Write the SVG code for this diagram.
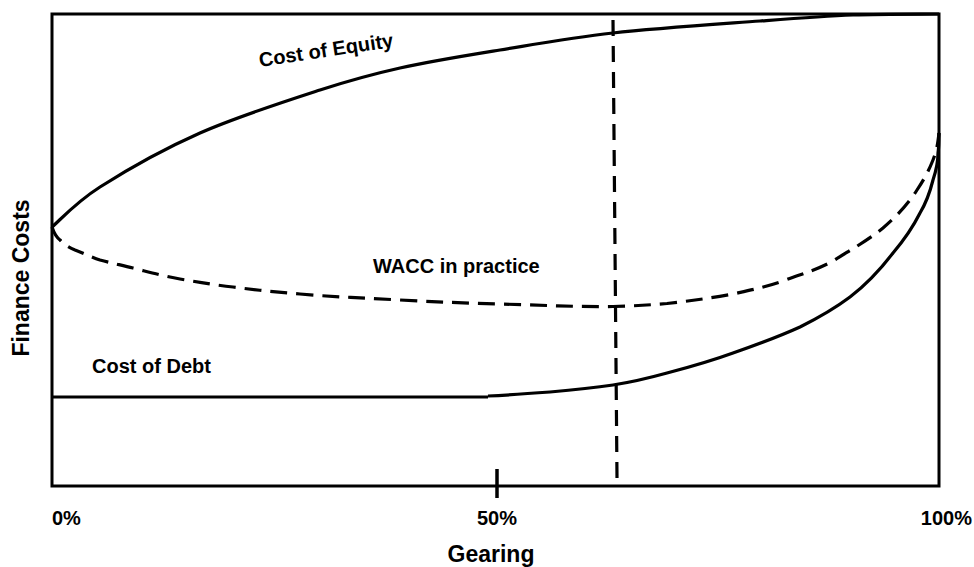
<svg xmlns="http://www.w3.org/2000/svg" width="974" height="567" viewBox="0 0 974 567">
<style>
.t{font-family:"Liberation Sans",Arial,sans-serif;font-weight:bold;font-size:20px;fill:#000}
.ax{font-size:23px}
.s{fill:none;stroke:#000;stroke-width:3.2;stroke-linecap:butt;stroke-linejoin:round}
.d{stroke-dasharray:17 9}
</style>
<rect width="974" height="567" fill="#fff"/>
<g id="frame">
<rect x="52" y="14" width="887" height="472" fill="none" stroke="#000" stroke-width="3"/>
<line x1="497" y1="469" x2="497" y2="498" stroke="#000" stroke-width="3.5"/>
</g>
<g id="curves">
<path id="equity" class="s" d="M52,227 C60,220.3 75.3,202.7 100,187 C124.7,171.3 163.3,149.2 200,133 C236.7,116.8 286.7,100.8 320,90 C353.3,79.2 370,74.7 400,68 C430,61.3 464.5,55.8 500,50 C535.5,44.2 569.7,37.8 613,33 C656.3,28.2 720,24 760,21 C800,18 823.2,16.2 853,15 C882.8,13.8 924.7,14.2 939,14"/>
<path id="wacc" class="s d" d="M52,227 C54,233 56,237 60,240 C64,244 68,247 75,250 C83,253 91,257 100,260 C111,263 121,265 133,268 C149,272 163,276 180,279 C198,282 214,285 233,287 C256,290 275,292 300,294 C334,297 366,298 400,300 C434,302 465,303 500,304 C538,305 575,307 613,306.5 C633,306 649,305 667,303.5 C690,301 711,298 733,294 C751,290 766,287 783,281 C801,274 817,270 833,261 C852,249 867,241 883,228 C897,216 908,204 917,190 C925,178 929,170 933,160 C937,150 938,142 939,133"/>
<path id="debt" class="s" d="M52,397 L488,397"/>
<path id="debt-rise" class="s" d="M488,396 C509,395 530,393.5 550,392 C572,390 592,388 613,385 C632,382 649,378 667,373 C690,367 711,361 733,353 C756,345 778,337 800,327 C818,318 834,309 850,297 C867,284 880,270 893,253 C904,240 913,227 920,213 C926,203 930,192 933,180 C936,171 938,162 938,153 C939,146 939,140 939,133"/>
<path id="optimum" class="s" d="M613,20 L617,478" stroke-dasharray="16 10"/>
</g>
<g id="labels">
<text class="t" x="260" y="67" transform="rotate(-8.6 260 67)">Cost of Equity</text>
<text class="t" x="373" y="273">WACC in practice</text>
<text class="t" x="92" y="373">Cost of Debt</text>
<text class="t" x="52" y="525">0%</text>
<text class="t" x="497" y="525" text-anchor="middle">50%</text>
<text class="t" x="972" y="525" text-anchor="end">100%</text>
<text class="t ax" x="491" y="562" text-anchor="middle">Gearing</text>
<text class="t ax" x="29" y="278" text-anchor="middle" transform="rotate(-90 29 278)">Finance Costs</text>
</g>
</svg>
